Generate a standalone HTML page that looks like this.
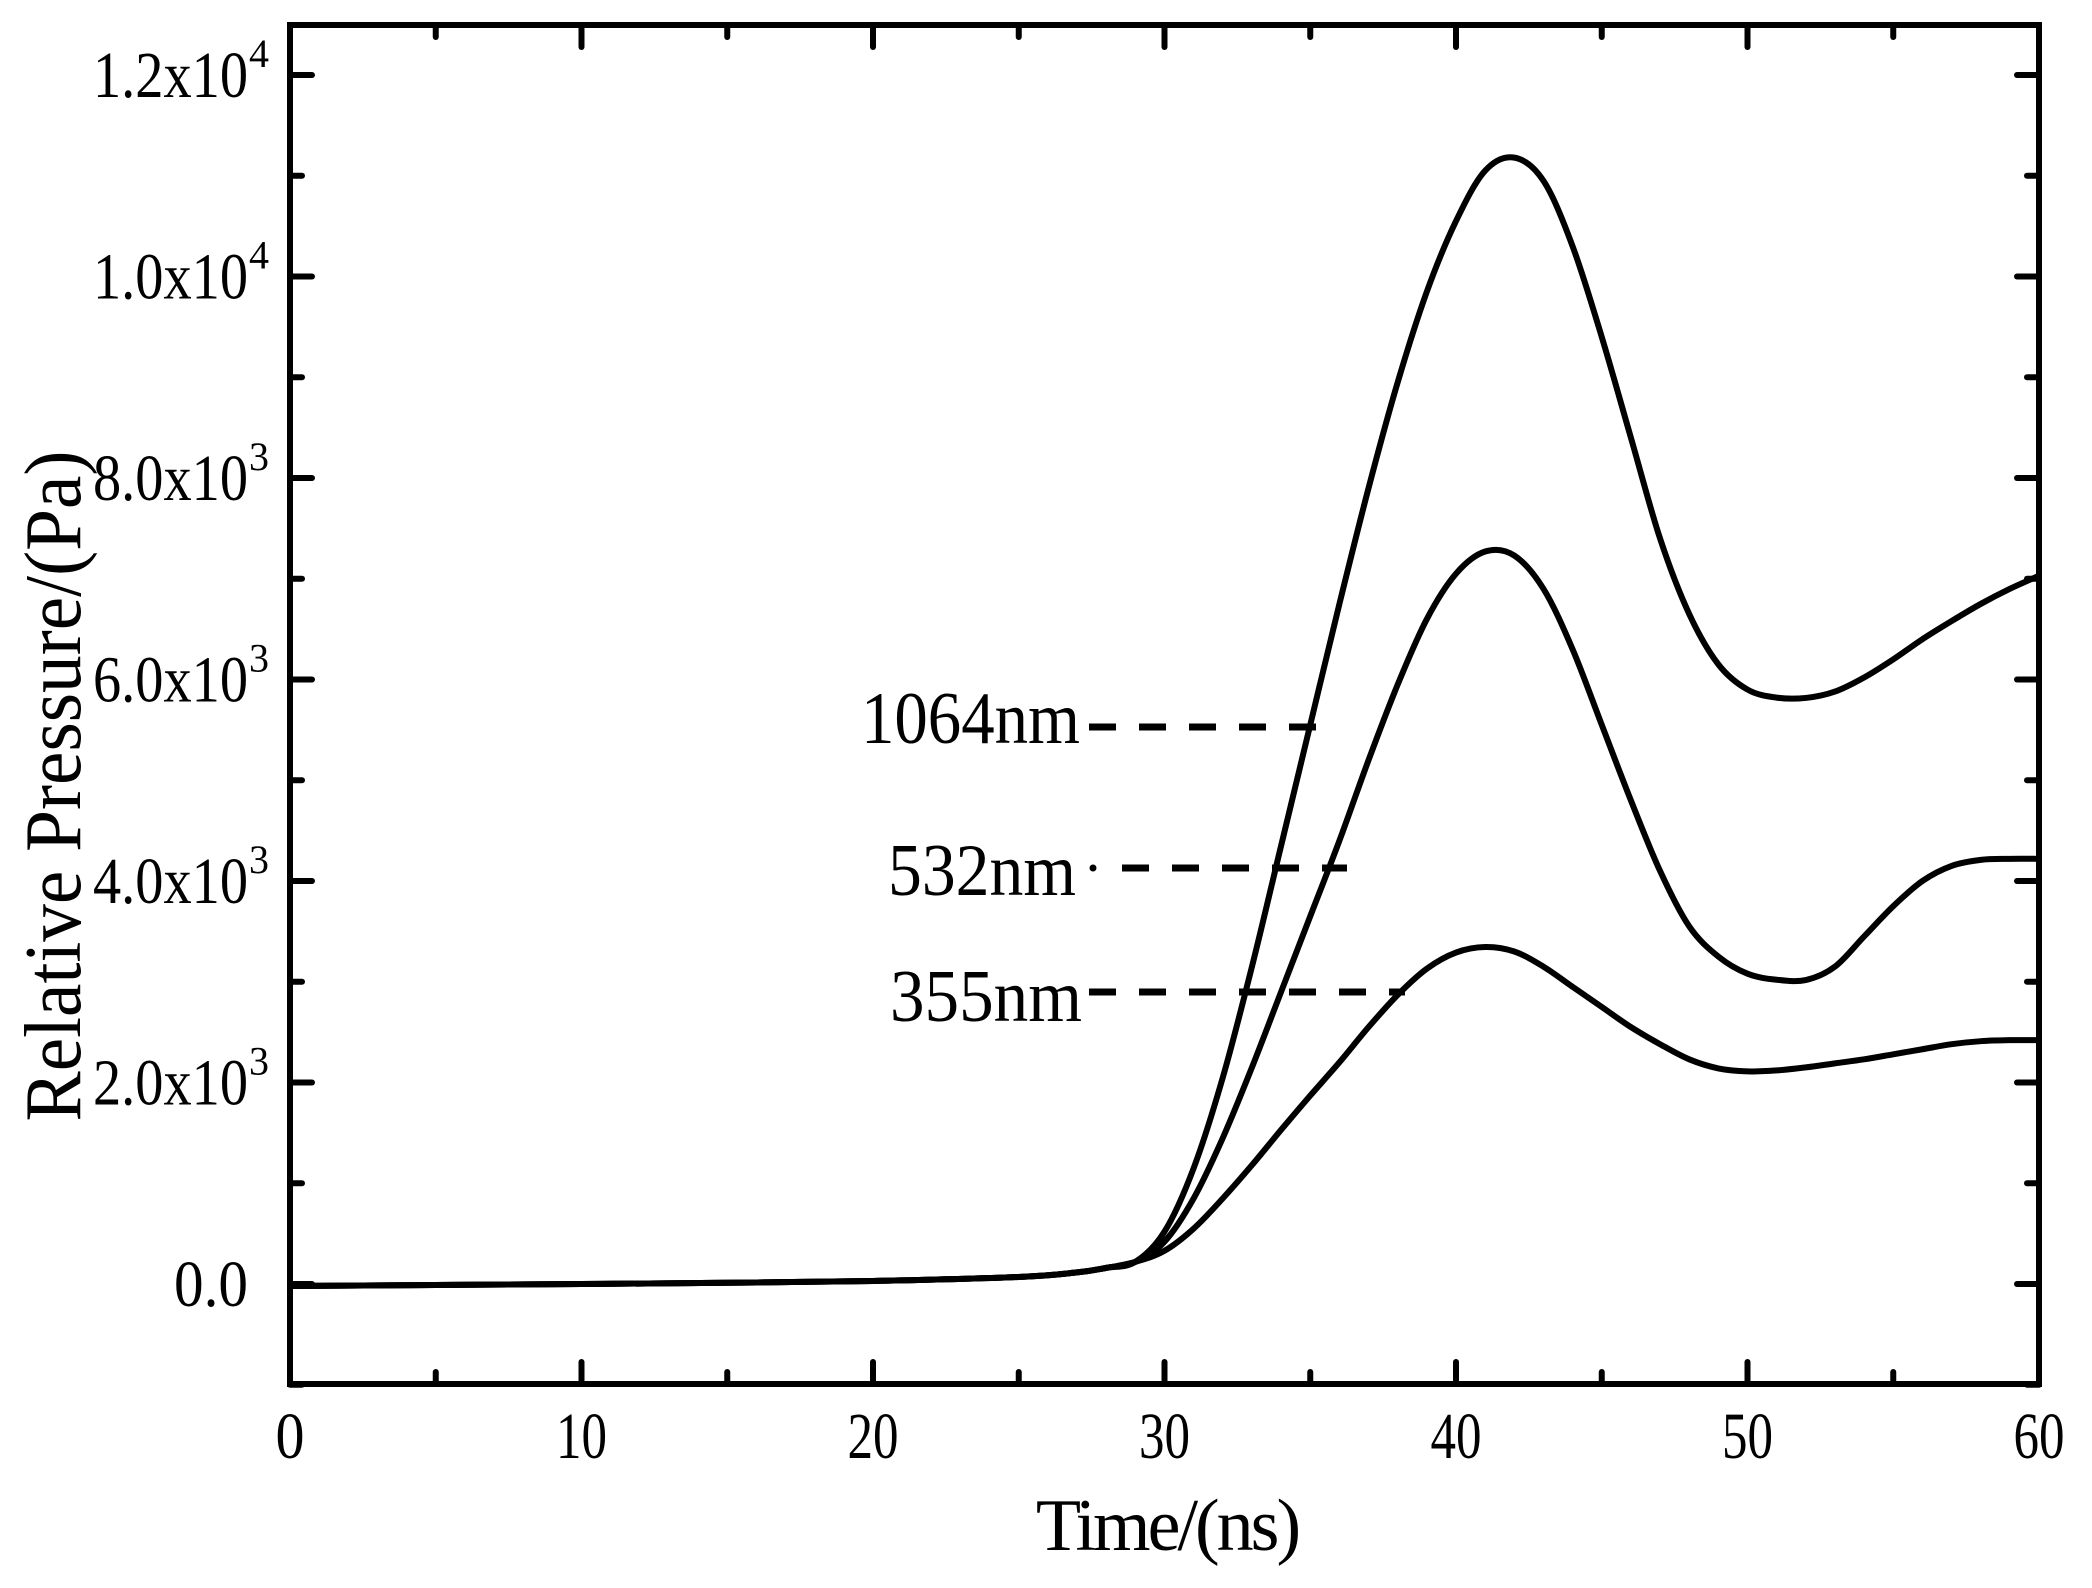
<!DOCTYPE html>
<html><head><meta charset="utf-8"><style>
html,body{margin:0;padding:0;background:#fff;}
svg{display:block;}
text{font-family:"Liberation Serif",serif;fill:#000;}
</style></head><body>
<svg id="s" width="2092" height="1588" viewBox="0 0 2092 1588" xmlns="http://www.w3.org/2000/svg">
<g id="ticks" stroke="#000" stroke-width="6" stroke-linecap="round"></g>
<rect x="290" y="25" width="1749" height="1359" fill="none" stroke="#000" stroke-width="6"/>
<g id="curves" fill="none" stroke="#000" stroke-width="6" stroke-linejoin="round"></g>
<g id="xl" font-size="66"></g>
<g id="yl" font-size="66"></g>
<text x="1167" y="1550" font-size="74" text-anchor="middle" letter-spacing="-3">Time/(ns)</text>
<text transform="translate(80,786) rotate(-90)" font-size="81" text-anchor="middle" textLength="671" lengthAdjust="spacingAndGlyphs">Relative Pressure/(Pa)</text>
<g font-size="74">
<text x="861" y="743" textLength="219" lengthAdjust="spacingAndGlyphs">1064nm</text>
<text x="888" y="895" textLength="188" lengthAdjust="spacingAndGlyphs">532nm</text>
<text x="890" y="1021" textLength="192" lengthAdjust="spacingAndGlyphs">355nm</text>
</g>
<g stroke="#000" stroke-width="7" stroke-dasharray="27,23" stroke-linecap="butt">
<line x1="1089" y1="727" x2="1318" y2="727"/>
<line x1="1122" y1="868" x2="1347" y2="868"/>
<line x1="1089" y1="992" x2="1405" y2="992"/>
</g>
<circle cx="1093" cy="868" r="3.5" fill="#000"/>
</svg>
<script>
var X=t=>290+t*1749/60, Y=v=>1284-v*201.5/2000;
var tk=document.getElementById("ticks"),h="";
for(var t=0;t<=60;t+=5){var L=t%10==0?22:12,x=X(t);h+=`<line x1="${x}" y1="1384" x2="${x}" y2="${1384-L}"/><line x1="${x}" y1="25" x2="${x}" y2="${25+L}"/>`;}
for(var v=-1000;v<=12000;v+=1000){var L=v%2000==0?22:12,y=Y(v);h+=`<line x1="290" y1="${y}" x2="${290+L}" y2="${y}"/><line x1="2039" y1="${y}" x2="${2039-L}" y2="${y}"/>`;}
tk.innerHTML=h;
var xl="";
for(var t=0;t<=60;t+=10){var w=t==0?29:51;xl+=`<text x="${X(t)-w/2}" y="1458" textLength="${w}" lengthAdjust="spacingAndGlyphs">${t}</text>`;}
document.getElementById("xl").innerHTML=xl;
var yl=`<text x="174" y="${Y(0)+22}" textLength="74" lengthAdjust="spacingAndGlyphs">0.0</text>`;
[[2,"2.0",3],[4,"4.0",3],[6,"6.0",3],[8,"8.0",3],[10,"1.0",4],[12,"1.2",4]].forEach(function(a){var y=Y(a[0]*1000);
yl+=`<text x="93" y="${y+22}" textLength="155" lengthAdjust="spacingAndGlyphs">${a[1]}x10</text><text x="249" y="${y-8}" font-size="40">${a[2]}</text>`;});
document.getElementById("yl").innerHTML=yl;
var base=[[0,-20],[5,-10],[10,0],[15,12],[20,30],[25,70],[27,115],[28,160]];
function ev(s,arr){var r=[];arr.forEach((v,i)=>r.push([s+i,v]));return r;}
var S=[
base.concat(ev(29,[220,520,1150,2050,3150,4350,5550,6750,7900,8950,9850,10550,11050,11180,10950,10300,9400,8400,7400,6650,6150,5900,5820,5817,5880,6020,6200,6400,6580,6750,6900,7030])),
base.concat(ev(29,[220,420,850,1450,2150,2900,3650,4400,5200,5950,6600,7050,7270,7230,6900,6300,5550,4800,4100,3550,3250,3080,3020,3017,3150,3450,3750,4000,4150,4210,4220,4220])),
base.concat(ev(29,[220,330,550,850,1180,1530,1870,2200,2550,2870,3130,3290,3345,3300,3150,2950,2750,2550,2380,2230,2140,2110,2120,2150,2190,2230,2280,2330,2380,2410,2420,2420]))];
var g=document.getElementById("curves"),out="";
S.forEach(function(p){p=p.map(a=>[X(a[0]),Y(a[1])]);var d="M"+p[0][0]+","+p[0][1];
for(var i=0;i<p.length-1;i++){var p0=p[i-1]||p[i],p1=p[i],p2=p[i+1],p3=p[i+2]||p2;
d+=" C"+(p1[0]+(p2[0]-p0[0])/6)+","+(p1[1]+(p2[1]-p0[1])/6)+" "+(p2[0]-(p3[0]-p1[0])/6)+","+(p2[1]-(p3[1]-p1[1])/6)+" "+p2[0]+","+p2[1];}
out+=`<path d="${d}"/>`;});
g.innerHTML=out;
</script>
</body></html>
